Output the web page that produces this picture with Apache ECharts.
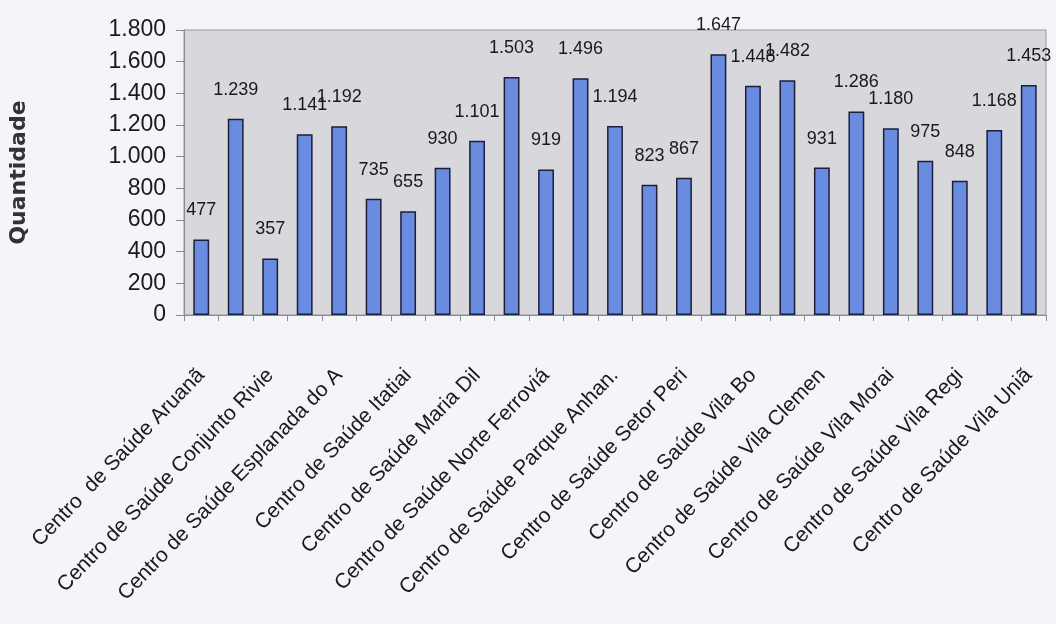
<!DOCTYPE html>
<html>
<head>
<meta charset="utf-8">
<script src="https://cdn.jsdelivr.net/npm/echarts@6/dist/echarts.min.js"></script>
<style>
html,body{margin:0;padding:0;background:#f4f5f9;}
#c{width:1056px;height:624px;}
</style>
</head>
<body>
<div id="c"></div>
<script>
var categories = [
  "Centro  de Saúde Aruanã", "Centro de Saúde", "Centro de Saúde Conjunto Rivie", "Centro de Saúde",
  "Centro de Saúde Esplanada do A", "Centro de Saúde", "Centro de Saúde Itatiai", "Centro de Saúde",
  "Centro de Saúde Maria Dil", "Centro de Saúde", "Centro de Saúde Norte Ferroviá", "Centro de Saúde",
  "Centro de Saúde Parque Anhan.", "Centro de Saúde", "Centro de Saúde Setor Peri", "Centro de Saúde",
  "Centro de Saúde Vila Bo", "Centro de Saúde", "Centro de Saúde Vila Clemen", "Centro de Saúde",
  "Centro de Saúde Vila Morai", "Centro de Saúde", "Centro de Saúde Vila Regi", "Centro de Saúde",
  "Centro de Saúde Vila Uniã"
];
var values = [477, 1239, 357, 1141, 1192, 735, 655, 930, 1101, 1503, 919, 1496, 1194,
  823, 867, 1647, 1448, 1482, 931, 1286, 1180, 975, 848, 1168, 1453];
var yTicks = [0, 200, 400, 600, 800, 1000, 1200, 1400, 1600, 1800];

function fmt(v) {
  return String(v).replace(/\B(?=(\d{3})+(?!\d))/g, '.');
}

var chart = echarts.init(document.getElementById('c'));
chart.setOption({
  backgroundColor: '#f4f5f9',
  animation: false,
  textStyle: { fontFamily: 'Liberation Sans, Arial, sans-serif', color: '#1a1a1a' },
  grid: {
    left: 181, right: 10, top: 30, bottom: 309,
    show: true, backgroundColor: '#d7d7dc', borderColor: '#9a9a9a', borderWidth: 1
  },
  xAxis: {
    type: 'category',
    data: categories,
    boundaryGap: true,
    axisLine: { lineStyle: { color: '#8a8a8a', width: 1 } },
    axisTick: { show: true, interval: 0, length: 6, lineStyle: { color: '#8a8a8a' } },
    axisLabel: {
      interval: 1, rotate: 46, margin: 57, fontSize: 21, color: '#1a1a1a',
      fontFamily: 'Liberation Sans, Arial, sans-serif'
    }
  },
  yAxis: {
    type: 'value',
    min: yTicks[0], max: yTicks[yTicks.length - 1], interval: 200,
    name: 'Quantidade',
    nameLocation: 'middle',
    nameGap: 154,
    nameTextStyle: { fontSize: 22, fontWeight: 'bold', color: '#333', fontFamily: 'DejaVu Sans, sans-serif' },
    axisLine: { show: true, lineStyle: { color: '#8a8a8a' } },
    axisTick: { show: true, length: 8, lineStyle: { color: '#8a8a8a' } },
    splitLine: { show: false },
    axisLabel: {
      margin: 18, fontSize: 23, color: '#1a1a1a',
      formatter: function (v) { return fmt(v); }
    }
  },
  series: [{
    type: 'bar',
    data: values,
    barWidth: '46%',
    itemStyle: { color: '#6a8ce0', borderColor: '#1c1f3a', borderWidth: 1.5 },
    label: {
      show: true, position: 'top', distance: 20, fontSize: 18, color: '#1a1a1a',
      formatter: function (p) { return fmt(p.value); }
    }
  }]
});
</script>
</body>
</html>
